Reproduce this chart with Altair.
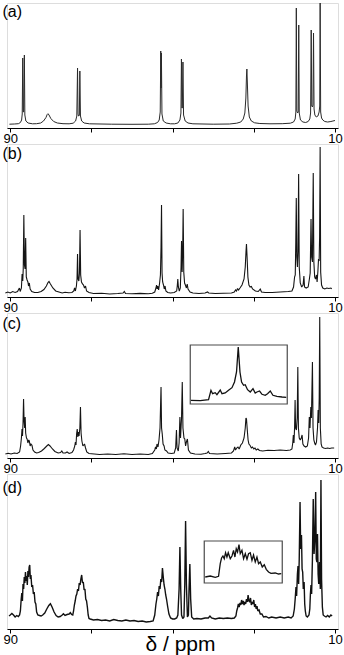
import altair as alt
import pandas as pd

FONT = "Liberation Sans"
TICKS = [90, 70, 50, 30, 10]
XDOM = [90.8, 9.25]

# ---------------- spectrum (a) : vertices (ppm, intensity) ----------------
a_ppm = [90.2, 89.0, 88.0, 87.5, 87.2, 87.05, 86.92, 86.8, 86.7, 86.52, 86.4, 86.15, 85.6, 84.5,
         83.5, 82.5, 81.8, 81.2, 80.9, 80.7, 80.45, 80.0, 79.3, 78.4, 77.0,
         75.5, 74.5, 73.9, 73.6, 73.42, 73.3, 73.2, 73.1, 72.97, 72.85, 72.7, 72.4, 71.8, 70.5,
         65, 60, 56, 54.5, 53.7, 53.3, 53.05, 52.92, 52.84, 52.76, 52.62, 52.3, 51.6, 50.5,
         49.5, 48.7, 48.2, 47.95, 47.82, 47.7, 47.6, 47.45, 47.3, 46.9, 46.2, 45,
         40, 36, 34.2, 33.2, 32.6, 32.2, 31.95, 31.8, 31.7, 31.58, 31.4, 31.1, 30.6, 29.8, 28.5, 26,
         23, 21, 20.2, 19.8, 19.63, 19.52, 19.4, 19.2, 19.05, 18.92, 18.8, 18.5, 17.9, 17.2, 16.6,
         16.2, 16.0, 15.85, 15.72, 15.55, 15.42, 15.28, 15.15, 14.95, 14.6, 14.2, 13.9, 13.75, 13.65,
         13.52, 13.3, 13.0, 12.5, 11.8, 11.0, 10.5, 10.0]
a_int = [3.8, 4.0, 4.3, 5.5, 8, 14, 70, 16, 16, 73, 13, 7, 5, 4.2,
         4.3, 5, 7, 10.5, 13.5, 14.3, 13, 9.5, 6.5, 5, 4.3,
         4.2, 4.8, 7, 12, 60, 14, 12, 12, 13, 57, 12, 7, 5, 4.2,
         3.8, 3.7, 3.8, 4.2, 5.5, 8, 16, 77, 40, 75, 14, 7, 5, 4.2,
         4.2, 5, 8, 15, 69, 20, 20, 66, 13, 7, 5, 4.2,
         3.8, 4, 4.8, 6, 9, 15, 30, 52, 59, 45, 22, 11, 7, 5.2, 4.5, 4.2,
         4.3, 4.8, 6, 9, 16, 120, 17, 15, 16, 103, 15, 8, 6, 5.5, 6.5,
         9, 15, 98, 22, 21, 23, 95, 19, 13, 11, 12, 16, 22, 125,
         16, 10, 8, 6.5, 6, 6.5, 7, 7.5]

# ---------------- spectrum (b) ----------------
b_ppm = [91.2, 90.6, 90.0, 89.4, 88.8, 88.2, 87.75, 87.55, 87.25, 87.08, 86.92, 86.8, 86.65, 86.5,
         86.35, 86.2, 86.05, 85.85, 85.65, 85.5, 85.3, 85.1, 84.7, 84.0,
         83.2, 82.4, 81.7, 81.1, 80.7, 80.45, 80.1, 79.5, 78.8, 78.0, 77.2, 76.5, 75.6, 74.8, 74.35,
         74.15, 73.95, 73.7, 73.55, 73.42, 73.3, 73.1, 72.95, 72.8, 72.65, 72.45, 72.2, 71.95, 71.7,
         71.45, 71.2, 70.6, 69.5,
         67.5, 65.5, 63.5, 62.2, 61.9, 61.6, 60, 58, 56, 55, 54.4, 54.1, 53.95, 53.8, 53.65, 53.45,
         53.2, 53.0, 52.85, 52.73, 52.6, 52.45, 52.25, 52.05, 51.85, 51.65, 51.2, 50.5,
         49.6, 49.0, 48.85, 48.72, 48.58, 48.35, 48.1, 47.92, 47.8, 47.65, 47.52, 47.4, 47.25, 47.05,
         46.85, 46.6, 46.4, 46.2, 45.7, 45.0,
         43.5, 42.0, 41.4, 41.1, 39.5, 37.5, 35.5, 34.8, 34.5, 34.25, 34.0, 33.75, 33.4, 32.9, 32.4,
         32.1, 31.92, 31.8, 31.65, 31.45, 31.2, 30.9, 30.6, 30.3, 29.6, 28.9, 28.4, 28.1, 27.2, 25.5,
         23.5, 21.5, 20.6, 20.2, 19.95, 19.78, 19.65, 19.53, 19.4, 19.25, 19.1, 18.95, 18.8, 18.55,
         18.2, 17.85, 17.65, 17.5, 17.1, 16.6, 16.3, 16.1, 15.9, 15.75, 15.55, 15.35, 15.2, 15.0,
         14.8, 14.55, 14.4, 14.2, 14.05, 13.9, 13.78, 13.65, 13.52, 13.3, 13.0, 12.5, 12.0, 11.5,
         11.0, 10.8]
b_int = [4, 5, 4, 5.5, 4.5, 5.5, 9, 5.5, 9, 23, 16, 28, 82, 32,
         28, 59, 20, 17, 15, 11, 14, 8, 5.5, 4.5,
         4.5, 5.5, 7.5, 11, 14.5, 15.5, 13, 9, 6, 5, 4, 4.8, 4.2, 4.5, 6,
         9, 6, 11, 18, 43, 18, 16, 24, 67, 22, 15, 13, 12, 9,
         11, 6, 4.5, 3.5,
         3.8, 3, 3.5, 4, 5.5, 3.5, 3.2, 3.6, 3.2, 3.8, 5, 9, 12, 8, 11, 7,
         14, 22, 50, 92, 24, 15, 12, 8, 11, 6, 4.5, 4,
         4.5, 6, 11, 18, 10, 6, 9, 30, 56, 25, 45, 88, 25, 14,
         12, 9, 13, 8, 5, 4,
         3.5, 4, 5, 4, 3.5, 3.8, 4, 5, 7, 6, 8.5, 7, 9, 12, 18,
         30, 45, 53, 40, 20, 12, 10, 10.5, 8, 6, 5.5, 8, 5, 4.5, 4.5,
         5, 5.5, 6, 10, 20, 22, 55, 99, 40, 30, 45, 123, 30, 14,
         10, 12, 21, 10, 9, 10, 18, 24, 78, 40, 35, 124, 35, 20,
         18, 22, 15, 26, 38, 36, 60, 150, 25, 12, 9, 8, 9, 8.5,
         9, 8]

# ---------------- spectrum (c) ----------------
c_ppm = [91.2, 90.5, 89.8, 89.0, 88.3, 87.7, 87.45, 87.25, 87.1, 86.98, 86.85, 86.72, 86.6, 86.45,
         86.32, 86.2, 86.0, 85.85, 85.65, 85.45, 85.3, 85.1, 84.9, 84.65, 84.4, 84.0, 83.5,
         83.0, 82.3, 81.6, 81.0, 80.6, 80.2, 79.6, 79.0, 78.2, 77.6, 77.3, 77.0, 76.4, 76.0, 75.5,
         74.8, 74.4, 74.1, 73.95, 73.8, 73.65, 73.5, 73.35, 73.2, 73.05, 72.85, 72.7, 72.55, 72.35,
         72.1, 71.9, 71.7, 71.45, 71.15, 70.6,
         68, 66, 64, 62, 60, 58, 56, 55, 54.4, 54.2, 54.0, 53.85, 53.6, 53.35, 53.1, 52.95, 52.85,
         52.72, 52.55, 52.35, 52.1, 51.9, 51.5, 51.1, 50.3,
         49.6, 49.25, 49.05, 48.9, 48.6, 48.4, 48.2, 48.05, 47.8, 47.62, 47.45, 47.2, 47.0, 46.8,
         46.6, 46.35, 46.1, 45.6, 44.5,
         43, 42, 41.5, 41.2, 40.9, 39, 37, 35.5, 35.0, 34.7, 34.5, 34.2, 33.9, 33.6, 33.2, 32.8, 32.4,
         32.1, 31.93, 31.8, 31.6, 31.4, 31.2, 30.9, 30.6, 30.3, 30.0, 29.7, 29.4, 29.0, 28.6, 27.8,
         26.5, 25, 23.5, 22, 21, 20.6, 20.4, 20.25, 20.1, 19.95, 19.82, 19.7, 19.5, 19.3, 19.15, 19.0,
         18.8, 18.55, 18.3, 18.1, 17.9, 17.6, 17.2, 16.8, 16.5, 16.32, 16.15, 15.95, 15.8, 15.55,
         15.4, 15.2, 15.0, 14.8, 14.55, 14.3, 14.15, 14.0, 13.88, 13.75, 13.6, 13.4, 13.2, 12.8,
         12.3, 11.8, 11.3, 10.8, 10.2]
c_int = [4, 4.8, 4, 5, 4.5, 6, 12, 20, 29, 22, 35, 59, 38, 30,
         41, 25, 20, 19, 15, 18, 17, 12, 14, 12.7, 8, 6, 5,
         5.5, 7, 9.5, 12, 13.5, 12, 9, 6.5, 5, 5.5, 7, 5, 5, 6, 4.5,
         5.5, 8, 12, 16, 13, 24, 29, 21, 26, 22, 30, 51, 25, 17,
         12, 13, 14, 10, 6, 4.5,
         3.5, 4, 3.5, 4.2, 3.5, 4, 3.5, 4.5, 8, 11, 9, 14, 11, 18, 30, 55, 71,
         30, 24, 14, 12, 8, 7, 5, 4.5,
         5, 10, 28, 10, 7, 15, 41, 20, 40, 76, 30, 20, 19, 12,
         16, 19, 8, 5, 4,
         3.8, 4.5, 5, 6.5, 4.5, 4, 4.5, 5, 7, 11, 8, 10, 11, 9, 13, 15, 20,
         30, 40, 39, 28, 18, 14, 12.5, 10, 11, 9, 10, 8, 9, 7.5, 7,
         7.8, 7.5, 8, 7.5, 8, 9, 15, 23, 15, 30, 58, 30, 28, 40, 91, 30,
         20, 18, 20, 23, 14, 12, 11, 12, 20, 41, 30, 51, 40, 96,
         30, 18, 15, 13, 16, 30, 48, 35, 60, 141, 30, 14, 11, 10,
         9.5, 10, 9.5, 10, 10]

# ---------------- spectrum (d) ----------------
d_ppm = [90.3, 90.0, 89.6, 89.2, 88.8, 88.4, 88.0, 87.7, 87.5, 87.3, 87.15, 87.0, 86.85, 86.7,
         86.55, 86.4, 86.25, 86.1, 85.95, 85.8, 85.65, 85.5, 85.35, 85.2, 85.05, 84.9, 84.7, 84.5,
         84.3, 84.1, 83.9, 83.7, 83.5, 83.2, 82.8, 82.4, 82.0,
         81.5, 81.0, 80.5, 80.1, 79.7, 79.2, 78.7, 78.2, 77.7, 77.2, 76.9, 76.5, 76.0, 75.5, 75.2,
         74.9, 74.6, 74.4, 74.2, 74.0, 73.8, 73.6, 73.4, 73.2, 73.0, 72.8, 72.6, 72.4, 72.2, 72.0,
         71.8, 71.6, 71.4, 71.2, 71.0, 70.8, 70.6, 70.3,
         69.5, 68.5, 67.5, 66.5, 65.5, 64.5, 63.5, 62.5, 61.5, 60.5, 59.5, 58.5, 57.5, 56.5, 55.5,
         54.8, 54.4, 54.1, 53.9, 53.7, 53.5, 53.3, 53.1, 52.9, 52.7, 52.5, 52.3, 52.1, 51.9, 51.7,
         51.5, 51.2, 50.9, 50.5, 50.0, 49.5, 49.0,
         48.7, 48.4, 48.2, 48.0, 47.8, 47.5, 47.2, 47.0, 46.8, 46.6, 46.35, 46.1, 45.95, 45.75, 45.55,
         45.3, 44.8, 44, 43, 42, 41.2, 40.8, 40.4, 39.5, 38.5, 37.5, 36.5, 35.5, 34.8, 34.4, 34.2,
         34.0, 33.8, 33.6, 33.4, 33.2, 33.0, 32.8, 32.6, 32.4, 32.2, 32.0, 31.8, 31.6, 31.4, 31.2,
         31.0, 30.8, 30.6, 30.4, 30.2, 30.0, 29.8, 29.6, 29.4, 29.2, 29.0, 28.7, 28.4, 28.0, 27.6,
         27.0, 26.3, 25.6, 24.5, 23.5, 22.5, 21.5, 20.8, 20.3, 20.0, 19.8, 19.6, 19.45, 19.25, 19.1,
         18.95, 18.8, 18.6, 18.45, 18.25, 18.1, 17.95, 17.8, 17.6, 17.45, 17.3, 17.1, 16.8, 16.4,
         16.2, 16.05, 15.9, 15.75, 15.55, 15.35, 15.15, 14.95, 14.75, 14.6, 14.45, 14.3, 14.15,
         14.0, 13.8, 13.6, 13.45, 13.3, 13.1, 12.9, 12.6, 12.2, 11.8, 11.4, 11.0, 10.7]
d_int = [13, 14, 15.5, 14, 12, 13.5, 12.5, 14, 18, 30, 36, 28, 45, 40,
         52, 46, 57, 48, 53, 44, 58, 52, 62, 64, 50, 54, 42, 44,
         35, 37, 27, 25, 17, 14, 13.5, 13, 14,
         16, 20, 23.5, 25.3, 22, 17, 13.5, 12, 12.5, 14, 15.3, 13.5, 14.5, 15, 16.3,
         14.5, 14, 18, 24, 28, 33, 35, 40, 38, 46, 44, 50, 54, 46, 47,
         39, 40, 30, 28, 22, 14, 10.5, 10,
         9, 9.5, 8.5, 9, 8, 9.5, 8.5, 8, 9, 8, 8.5, 7.5, 8, 7, 7.5,
         8, 14, 25, 30, 37, 33, 43, 40, 50, 47, 61, 52, 44, 40, 34,
         30, 22, 15, 11, 10, 10, 11,
         14, 40, 82, 40, 14, 10.5, 12, 45, 108, 45, 12, 14, 40, 65, 30,
         12, 10, 10.5, 10, 11, 11, 13, 11, 10, 11, 10.5, 11, 10.5, 11, 13, 18,
         21, 25, 22, 26, 24, 29, 25, 28, 24, 27, 25, 30, 27, 34, 28,
         27, 31, 24, 27, 25, 29, 22, 25, 20, 23, 18, 19, 15, 15, 12,
         12.5, 11, 12, 11, 12, 11, 12, 11, 13, 20, 30, 42, 33, 55, 63,
         45, 70, 127, 80, 94, 60, 57, 40, 47, 25, 18, 13, 12, 14,
         20, 35, 44, 35, 70, 130, 75, 90, 137, 70, 67, 95, 55,
         45, 67, 40, 149, 50, 22, 14, 13, 12, 13.5, 12, 14, 13]

# ---------------- insets (expanded region around 32 ppm) ----------------
ci_ppm = [36.53, 35.61, 34.79, 34.55, 34.39, 34.13, 33.96, 33.63, 33.46, 33.14, 32.81, 32.47,
          32.22, 32.02, 31.85, 31.68, 31.52, 31.32, 31.16, 30.93, 30.66, 30.39, 30.17, 30.00,
          29.74, 29.50, 29.18, 28.95, 28.68, 28.42, 28.02, 27.52, 27.10]
ci_int = [3.7, 3.3, 4.3, 13.7, 10.3, 11.3, 9.3, 14, 10.3, 11, 13.7, 16.3,
          22, 32, 57, 32, 22, 18.7, 19.3, 14.3, 12, 15.3, 11, 12,
          13, 9.7, 8.7, 10.3, 13, 8.7, 7.7, 7, 6.7]
di_ppm = [36.45, 35.68, 34.92, 34.42, 34.16, 33.96, 33.75, 33.55, 33.35, 33.14, 32.94, 32.63,
          32.37, 32.13, 31.92, 31.72, 31.52, 31.30, 31.11, 30.85, 30.60, 30.34, 30.08, 29.84,
          29.58, 29.32, 29.08, 28.82, 28.56, 28.31, 28.05, 27.75, 27.44, 27.14, 26.79, 26.42,
          25.77, 25.26, 24.85]
di_int = [6, 7, 5.7, 6.7, 19.3, 25, 27, 24.3, 30.3, 26, 30.3, 24.3,
          27, 32.7, 26, 34.3, 31, 38.3, 29.3, 32.7, 24.3, 29.3, 23.7, 29.3,
          30.3, 22.7, 28, 21, 26, 19.3, 21, 16, 18.3, 13.7, 11, 9.7,
          10, 9, 9.3]

panels = [
    dict(label="(a)", ppm=a_ppm, inten=a_int, h=125, dy=1, color="#2a2a2a", sw=1.0),
    dict(label="(b)", ppm=b_ppm, inten=b_int, h=153, dy=2, color="#151515", sw=1.1),
    dict(label="(c)", ppm=c_ppm, inten=c_int, h=145, dy=3, color="#151515", sw=1.1),
    dict(label="(d)", ppm=d_ppm, inten=d_int, h=155, dy=6, color="#111111", sw=1.4),
]
panels[2]["inset"] = dict(ppm=ci_ppm, inten=ci_int, xdom=[36.6, 27.0], ymax=59,
                          xr=[183.25, 280.25], yr=[91, 32])
panels[3]["inset"] = dict(ppm=di_ppm, inten=di_int, xdom=[36.6, 24.7], ymax=42,
                          xr=[197.25, 275.25], yr=[109, 67])


def make_panel(p, last):
    df = pd.DataFrame({"ppm": p["ppm"], "I": p["inten"], "k": list(range(len(p["ppm"])))})
    extra = {}
    if last:
        extra = dict(titleFont=FONT, titleFontSize=21, titleFontWeight="normal",
                     titleColor="black", titleX=173, titleY=21,
                     titleBaseline="alphabetic", titleAlign="center")
    axis = alt.Axis(values=TICKS,
                    labelExpr="datum.value == 90 || datum.value == 10 ? datum.label : ''",
                    grid=False, tickSize=4, tickColor="black", domainColor="black",
                    labelFont=FONT, labelFontSize=13, labelColor="black", labelPadding=0,
                    labelFlush=False,
                    title="δ / ppm" if last else None, **extra)
    xs = alt.Scale(domain=XDOM, nice=False, zero=False)
    ys = alt.Scale(domain=[0, p["h"]], nice=False, zero=False)
    line = alt.Chart(df).mark_line(color=p["color"], strokeWidth=p["sw"],
                                   strokeJoin="miter", strokeMiterLimit=2).encode(
        x=alt.X("ppm:Q", scale=xs, axis=axis),
        y=alt.Y("I:Q", scale=ys, axis=None),
        order="k:Q",
    )
    lab = alt.Chart(pd.DataFrame({"t": [p["label"]]})).mark_text(
        align="left", baseline="top", font=FONT, fontSize=16, color="black",
        dx=-4.5, dy=p["dy"]).encode(
        x=alt.datum(XDOM[0]), y=alt.datum(p["h"]), text="t:N")
    main = alt.layer(line, lab)
    if "inset" not in p:
        return main.properties(width=331, height=p["h"])
    ins = p["inset"]
    ixs = alt.Scale(domain=ins["xdom"], range=ins["xr"], nice=False, zero=False)
    iys = alt.Scale(domain=[0, ins["ymax"]], range=ins["yr"], nice=False, zero=False)
    idf = pd.DataFrame({"ppm": ins["ppm"], "I": ins["inten"], "k": list(range(len(ins["ppm"])))})
    box = alt.Chart(pd.DataFrame({"x1": [ins["xdom"][0]], "x2": [ins["xdom"][1]],
                                  "y1": [0], "y2": [ins["ymax"]]})).mark_rect(
        fillOpacity=0, stroke="#4a4a4a", strokeWidth=1.2).encode(
        x=alt.X("x1:Q", scale=ixs, axis=None), x2="x2:Q",
        y=alt.Y("y1:Q", scale=iys, axis=None), y2="y2:Q")
    iline = alt.Chart(idf).mark_line(color="#111111", strokeWidth=1.3).encode(
        x=alt.X("ppm:Q", scale=ixs, axis=None),
        y=alt.Y("I:Q", scale=iys, axis=None),
        order="k:Q")
    return alt.layer(main, alt.layer(box, iline)).resolve_scale(
        x="independent", y="independent").properties(width=331, height=p["h"])


charts = [make_panel(p, i == len(panels) - 1) for i, p in enumerate(panels)]
chart = alt.vconcat(*charts, spacing=16, bounds="flush").properties(
    padding={"left": 2, "top": 1, "right": 1, "bottom": 0}
).configure_view(stroke=None).configure(background="white")

chart.save("out.html", embed_options={"renderer": "svg", "actions": False})
